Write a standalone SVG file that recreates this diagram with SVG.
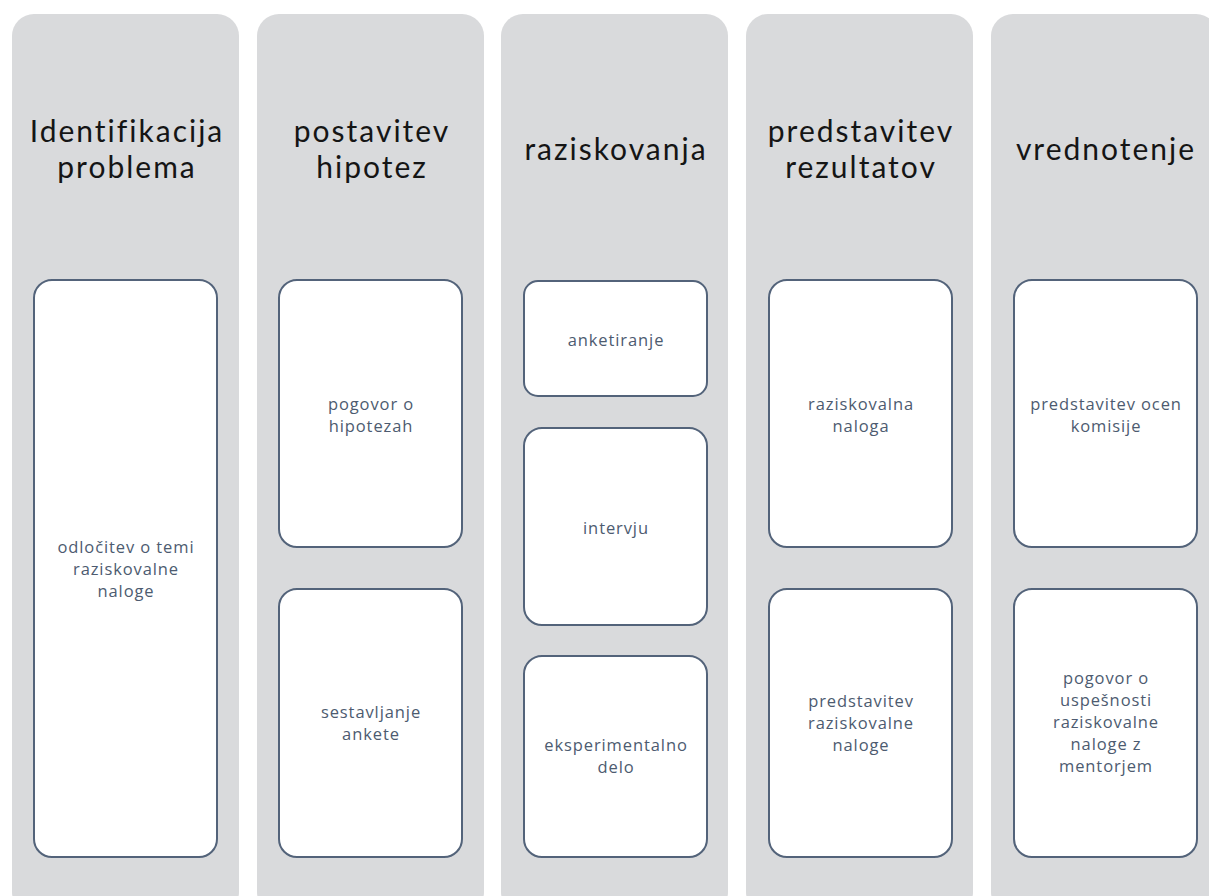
<svg xmlns="http://www.w3.org/2000/svg" width="1209" height="896" viewBox="0 0 1209 896">
<style>
.col{fill:#D9DADC}
.box{fill:#FFFFFF;stroke:#53637A;stroke-width:2}
.title{font-family:Lato,"Open Sans",sans-serif;font-size:30px;letter-spacing:2px;fill:#151515;text-anchor:middle}
.lbl{font-family:"Open Sans",Lato,sans-serif;font-size:16.5px;letter-spacing:0.9px;fill:#4D5B70;text-anchor:middle}
</style>
<rect width="1209" height="896" fill="#FFFFFF"/>
<g id="col1">
<rect class="col" x="12" y="14" width="227" height="900" rx="22"/>
<text class="title" x="127" y="142">Identifikacija</text>
<text class="title" x="127" y="178">problema</text>
</g>
<g id="col2">
<rect class="col" x="257" y="14" width="227" height="900" rx="22"/>
<text class="title" x="372" y="142">postavitev</text>
<text class="title" x="372" y="178">hipotez</text>
</g>
<g id="col3">
<rect class="col" x="501" y="14" width="227" height="900" rx="22"/>
<text class="title" x="616" y="160">raziskovanja</text>
</g>
<g id="col4">
<rect class="col" x="746" y="14" width="227" height="900" rx="22"/>
<text class="title" x="861" y="142">predstavitev</text>
<text class="title" x="861" y="178">rezultatov</text>
</g>
<g id="col5">
<rect class="col" x="991" y="14" width="227" height="900" rx="22"/>
<text class="title" x="1106" y="160">vrednotenje</text>
</g>
<g id="n1">
<rect class="box" x="34" y="280" width="183" height="577" rx="18"/>
<text class="lbl" x="126" y="553">odločitev o temi</text>
<text class="lbl" x="126" y="575">raziskovalne</text>
<text class="lbl" x="126" y="597">naloge</text>
</g>
<g id="n2">
<rect class="box" x="279" y="280" width="183" height="267" rx="18"/>
<text class="lbl" x="371" y="410">pogovor o</text>
<text class="lbl" x="371" y="432">hipotezah</text>
</g>
<g id="n3">
<rect class="box" x="279" y="589" width="183" height="268" rx="18"/>
<text class="lbl" x="371" y="718">sestavljanje</text>
<text class="lbl" x="371" y="740">ankete</text>
</g>
<g id="n4">
<rect class="box" x="524" y="281" width="183" height="115" rx="14"/>
<text class="lbl" x="616" y="346">anketiranje</text>
</g>
<g id="n5">
<rect class="box" x="524" y="428" width="183" height="197" rx="18"/>
<text class="lbl" x="616" y="534">intervju</text>
</g>
<g id="n6">
<rect class="box" x="524" y="656" width="183" height="201" rx="18"/>
<text class="lbl" x="616" y="751">eksperimentalno</text>
<text class="lbl" x="616" y="773">delo</text>
</g>
<g id="n7">
<rect class="box" x="769" y="280" width="183" height="267" rx="18"/>
<text class="lbl" x="861" y="410">raziskovalna</text>
<text class="lbl" x="861" y="432">naloga</text>
</g>
<g id="n8">
<rect class="box" x="769" y="589" width="183" height="268" rx="18"/>
<text class="lbl" x="861" y="707">predstavitev</text>
<text class="lbl" x="861" y="729">raziskovalne</text>
<text class="lbl" x="861" y="751">naloge</text>
</g>
<g id="n9">
<rect class="box" x="1014" y="280" width="183" height="267" rx="18"/>
<text class="lbl" x="1106" y="410">predstavitev ocen</text>
<text class="lbl" x="1106" y="432">komisije</text>
</g>
<g id="n10">
<rect class="box" x="1014" y="589" width="183" height="268" rx="18"/>
<text class="lbl" x="1106" y="684">pogovor o</text>
<text class="lbl" x="1106" y="706">uspešnosti</text>
<text class="lbl" x="1106" y="728">raziskovalne</text>
<text class="lbl" x="1106" y="750">naloge z</text>
<text class="lbl" x="1106" y="772">mentorjem</text>
</g>
<g id="connectors"></g>
</svg>
